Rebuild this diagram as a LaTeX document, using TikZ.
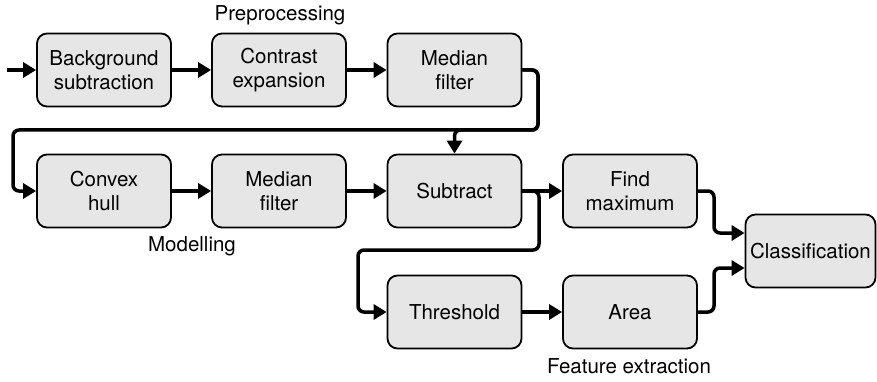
\documentclass[tikz,border=0pt]{standalone}
\usepackage{fontspec}
\setmainfont{TeX Gyre Heros}
\usetikzlibrary{arrows.meta,calc}
\definecolor{boxfill}{HTML}{E6E6E6}
\begin{document}
\begin{tikzpicture}[x=1pt,y=-1pt,
  stepbox/.style={draw=black, line width=1.8pt, fill=boxfill, rounded corners=10pt,
    minimum width=134pt, minimum height=73pt, align=center, inner sep=2pt,
    font=\fontsize{20.5}{24}\selectfont},
  lbl/.style={font=\fontsize{20.5}{24}\selectfont},
  conn/.style={line width=3.5pt, rounded corners=6pt, -{Triangle[length=13pt,width=15pt]}},
  plain/.style={line width=3.5pt, rounded corners=6pt}]
\useasboundingbox (0,0) rectangle (877,382);
\node[stepbox] (b1) at (104,70) {Background\\subtraction};
\node[stepbox] (b2) at (279,70) {Contrast\\expansion};
\node[stepbox] (b3) at (454.5,70) {Median\\filter};
\node[stepbox] (c1) at (104,191) {Convex\\hull};
\node[stepbox] (m2) at (279,191) {Median\\filter};
\node[stepbox] (sub) at (454.5,191) {Subtract};
\node[stepbox] (fm) at (630,191) {Find\\maximum};
\node[stepbox] (th) at (454.5,312) {Threshold};
\node[stepbox] (ar) at (630,312) {Area};
\node[stepbox, minimum width=130pt] (cl) at (810.5,251) {Classification};
\node[lbl] (lp) at (280,15) {Preprocessing};
\node[lbl] (lm) at (192,246) {Modelling};
\node[lbl] (lf) at (629,366) {Feature extraction};
\coordinate (in) at (7,70);
\coordinate (ra) at (538,70);
\coordinate (rb) at (538,130);
\coordinate (la) at (13,130);
\coordinate (lb) at (13,191);
\coordinate (sa) at (539,191);
\coordinate (sb) at (539,250);
\coordinate (sc) at (358,250);
\coordinate (sd) at (358,312);
\coordinate (fa) at (714,191);
\coordinate (aa) at (714,312);
\coordinate (ct) at ([yshift=18pt]cl.west);
\coordinate (cb) at ([yshift=-17pt]cl.west);
\draw[conn] (in) -- (b1.west);
\draw[conn] (b1) -- (b2);
\draw[conn] (b2) -- (b3);
\draw[conn] (b3.east) -- (ra) -- (rb) -- (la) -- (lb) -- (c1.west);
\draw[conn] (b3.east) -- (ra) -- (rb) -- (sub.north |- rb) -- (sub.north);
\draw[conn] (c1) -- (m2);
\draw[conn] (m2) -- (sub);
\draw[conn] (sub) -- (fm);
\draw[conn] (sub.east) -- (sa) -- (sb) -- (sc) -- (sd) -- (th.west);
\draw[conn] (th) -- (ar);
\draw[conn] (fm.east) -- (fa) -- (fa |- ct) -- (ct);
\draw[conn] (ar.east) -- (aa) -- (aa |- cb) -- (cb);
\end{tikzpicture}
\end{document}
